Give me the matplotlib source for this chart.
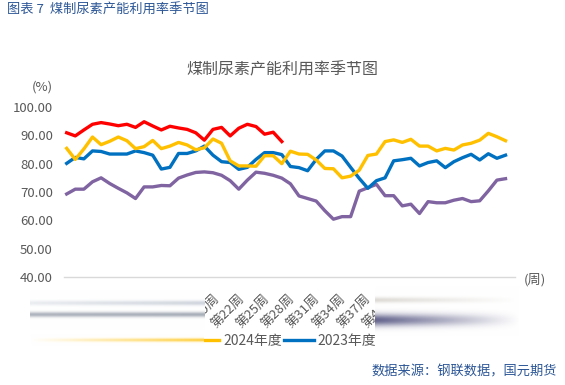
import numpy as np
import matplotlib
matplotlib.use('Agg')
import matplotlib.pyplot as plt
from matplotlib.colors import to_rgb

plt.rcParams['font.family'] = ['Noto Sans CJK SC', 'DejaVu Sans']

W, H = 565, 385

# weekly capacity utilisation (%), week index 0..51
y2025 = [90.9, 89.8, 91.9, 93.9, 94.5, 94.0, 93.4, 93.9, 92.8, 94.8, 93.3, 91.9, 93.2,
         92.6, 92.1, 90.9, 88.3, 92.1, 92.8, 89.8, 92.5, 93.9, 93.1, 90.4, 91.1, 87.8]
y2024 = [85.4, 81.5, 85.2, 89.4, 86.7, 87.9, 89.4, 88.1, 85.3, 86.0, 88.2, 85.3, 86.2,
         87.5, 86.6, 84.9, 85.6, 88.7, 87.2, 81.0, 79.2, 79.2, 79.1, 82.8, 82.8, 80.0,
         84.4, 83.4, 83.3, 81.3, 78.3, 78.2, 75.0, 75.6, 77.7, 82.9, 83.4, 87.8, 88.4,
         87.5, 88.6, 86.2, 86.2, 84.5, 85.4, 84.8, 86.6, 87.2, 88.3, 90.7, 89.5, 88.1]
y2023 = [80.1, 82.2, 81.7, 84.5, 84.3, 83.4, 83.4, 83.4, 84.5, 83.9, 83.0, 78.1, 78.7,
         83.6, 83.6, 84.5, 86.2, 83.0, 80.7, 80.4, 78.0, 78.7, 81.5, 83.9, 83.9, 83.2,
         79.0, 78.6, 77.5, 81.5, 84.5, 84.5, 82.7, 78.7, 74.8, 71.3, 74.0, 75.0, 81.0,
         81.4, 81.9, 79.2, 80.4, 81.0, 78.6, 80.7, 82.1, 83.3, 81.3, 83.5, 81.9, 83.0]
y2022 = [69.3, 71.0, 71.0, 73.6, 75.0, 73.0, 71.3, 69.7, 67.7, 71.8, 71.8, 72.3, 72.2,
         74.9, 76.0, 76.9, 77.1, 76.8, 75.9, 74.0, 71.0, 74.2, 77.0, 76.6, 75.9, 74.9,
         72.9, 68.6, 67.7, 66.8, 63.4, 60.4, 61.3, 61.3, 70.3, 71.5, 72.7, 68.7, 68.7,
         65.1, 65.7, 62.4, 66.6, 66.2, 66.2, 67.1, 67.7, 66.6, 66.9, 70.4, 74.2, 74.7]
week_labels = [f'第{w}周' for w in range(1, 53, 3)]

GRAY = '#595959'
BLUE_TXT = '#2C5696'


def px(x, y):
    return x / W, 1 - y / H


fig = plt.figure(figsize=(W / 100, H / 100), dpi=100)
ax = fig.add_axes([64 / W, (H - 277) / H, 451 / W, 170 / H])

lw = 2.4
ax.plot(range(len(y2022)), y2022, color='#8064A2', lw=lw, solid_joinstyle='round')
l23, = ax.plot(range(len(y2023)), y2023, color='#0070C0', lw=lw, solid_joinstyle='round', label='2023年度')
l24, = ax.plot(range(len(y2024)), y2024, color='#FFC000', lw=lw, solid_joinstyle='round', label='2024年度')
ax.plot(range(len(y2025)), y2025, color='#FF0000', lw=lw, solid_joinstyle='round')

ax.set_xlim(-0.31, 52.1)
ax.set_ylim(40, 100)
ax.set_yticks(np.arange(40, 101, 10))
ax.set_yticklabels([f'{v:.2f}' for v in np.arange(40, 101, 10)])
ax.set_xticks([])
ax.tick_params(axis='y', length=0, pad=8, labelsize=9.5, labelcolor=GRAY)
for s in ['top', 'right', 'left']:
    ax.spines[s].set_visible(False)
ax.spines['bottom'].set_color('#D9D9D9')
ax.spines['bottom'].set_linewidth(1)

# texts
fig.text(*px(7, 10), '图表 7  煤制尿素产能利用率季节图', color=BLUE_TXT, fontsize=9.5, va='center', ha='left')
fig.text(*px(282, 70), '煤制尿素产能利用率季节图', color=GRAY, fontsize=11.5, va='center', ha='center')
fig.text(*px(42, 87), '(%)', color=GRAY, fontsize=9.5, va='center', ha='center')
fig.text(*px(535, 280), '(周)', color=GRAY, fontsize=9.5, va='center', ha='center')
fig.text(*px(557, 372), '数据来源：钢联数据，国元期货', color=BLUE_TXT, fontsize=9.5, va='center', ha='right')

# rotated week labels (garbled category axis)
for k, lab in enumerate(week_labels):
    xr = 222 + (k - 6) * 25.1
    fig.text(*px(xr, 292), lab, color=GRAY, fontsize=9.5, rotation=45, ha='right', va='top')

fig.legend(handles=[l24, l23], loc='center', bbox_to_anchor=px(283, 341), ncol=2, frameon=False,
           fontsize=10, labelcolor=GRAY, handlelength=2.1, handletextpad=0.3, columnspacing=0.2,
           borderpad=0)

# smeared rendering artefacts of the source image
ov = fig.add_axes([0, 0, 1, 1])
ov.set_zorder(10)
ov.set_xlim(0, W)
ov.set_ylim(H, 0)
ov.axis('off')
ov.patch.set_alpha(0)


def smear(x0, x1, y0, y1, bands):
    nx, ny = int(x1 - x0), int(y1 - y0)
    img = np.ones((ny, nx, 3))
    yy = np.arange(ny)[:, None] + y0 + 0.5
    xx = np.linspace(0, 1, nx)[None, :]
    for col, yc, h, a0, a1 in bands:
        a = (a0 + (a1 - a0) * xx) * np.exp(-((yy - yc) / h) ** 2)
        c = np.array(to_rgb(col))
        img = img * (1 - a[..., None]) + c * a[..., None]
    ov.imshow(img, extent=(x0, x1, y1, y0), aspect='auto', interpolation='bilinear')


smear(30, 205, 290, 334, [('#c5ccd6', 303, 2.5, 0.35, 0.8), ('#8e96a3', 314.5, 2.6, 0.7, 0.75)])
smear(375, 520, 286, 336, [('#d6d2cc', 300, 2.8, 0.8, 0.0), ('#4a4a7a', 320, 6.0, 0.85, 0.0)])
smear(30, 204, 334, 346, [('#FFC000', 340, 1.8, 0.0, 0.75)])

fig.savefig('out.png', dpi=100)
